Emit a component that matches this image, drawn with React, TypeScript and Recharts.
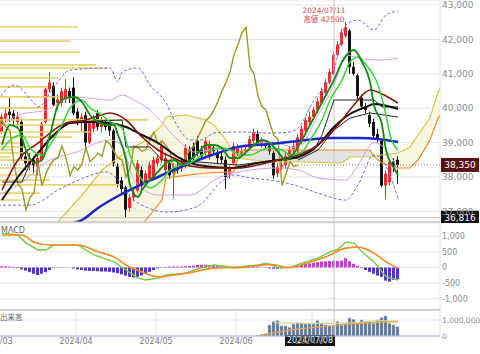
import React from 'react';
import { ComposedChart, Bar, Line, Area, XAxis, YAxis, CartesianGrid, ReferenceLine, ReferenceDot, Cell } from 'recharts';

const FONT = "'DejaVu Sans', 'Noto Sans CJK JP', sans-serif";

// ---------- axes / labels ----------
const monthTicks = [-1.5, 18.5, 38.5, 58.5, 77.5];
const monthLabels = ['2024/03', '2024/04', '2024/05', '2024/06', '2024/07'];
const crosshairSlot = 83;
const crosshairLabel = '2024/07/08';
const highSlot = 86;
const highDate = '2024/07/11';
const highValue = 42500;
const priceTicks = [37000, 38000, 39000, 40000, 41000, 42000, 43000];
const macdTicks = [-1000, -500, 0, 500, 1000];
const volumeTicks = [0, 1000000];
const LAG = 25;

// ---------- candles (slot 0..99) ----------
const candleOpen = [
  39300, 39700, 39900, 39850, 39600, 39600, 38600, 38350, 38500, 38300,
  38500, 39600, 40550, 40650, 40150, 40150, 40250, 40500, 40600, 39900,
  39600, 39800, 39000, 39400, 39850, 39450, 39600, 39500, 39350, 38300,
  37900, 37700, 37100, 37400, 37600, 38200, 37800, 37950, 38000, 38400,
  38500, 38200, 38400, 38100, 38300, 38250, 38300, 38800, 38900, 39050,
  38800, 38700, 38600, 38850, 38700, 38600, 38500, 38050, 38400, 38700,
  38700, 38750, 38850, 39050, 39250, 38900, 38950, 38900, 38700, 38100,
  38300, 38350, 38600, 38800, 38750, 39050, 39350, 39600, 39750, 39950,
  40150, 40450, 40750, 41000, 41550, 41850, 42100, 42250, 41200, 40950,
  40300, 40050, 39800, 39600, 39250, 39050, 37750, 37850, 38450, 38500,
];
const candleHigh = [
  39850, 40000, 40300, 39950, 39900, 39700, 38700, 38700, 38600, 38650,
  39600, 40600, 41050, 40750, 40400, 40600, 40850, 40600, 40900, 40000,
  39850, 39900, 39700, 39800, 39950, 39750, 39700, 39650, 39400, 38400,
  38000, 37750, 37500, 37650, 38500, 38300, 38200, 38450, 38600, 38650,
  39000, 38700, 38500, 38400, 38400, 38500, 38950, 38900, 39000, 39200,
  38900, 39150, 39050, 38950, 38850, 38700, 38600, 38350, 39000, 38950,
  38900, 38950, 39200, 39400, 39350, 39150, 39050, 39000, 38750, 38400,
  38500, 38700, 38900, 39000, 39250, 39500, 39750, 39900, 40050, 40300,
  40600, 40850, 41150, 41650, 41950, 42300, 42500, 42300, 41350, 41000,
  40400, 40150, 39900, 39700, 39400, 39100, 38200, 38500, 38550, 38600,
];
const candleLow = [
  39250, 39600, 39600, 39500, 39450, 38500, 38200, 38200, 38100, 38050,
  38450, 39550, 40450, 40050, 39950, 40050, 40150, 40150, 39800, 39500,
  39300, 38800, 38950, 39300, 39350, 39300, 39350, 39200, 38300, 37700,
  37500, 36816, 37000, 37300, 37550, 37600, 37700, 37850, 37900, 38300,
  38400, 38100, 37950, 37400, 38100, 38150, 38250, 38350, 38400, 38600,
  38500, 38600, 38500, 38650, 38400, 38400, 37650, 37950, 38350, 38600,
  38600, 38650, 38800, 38950, 38900, 38850, 38800, 38650, 37950, 38000,
  38200, 38250, 38500, 38700, 38700, 38950, 39300, 39500, 39650, 39850,
  40100, 40400, 40700, 40950, 41500, 41800, 42050, 41000, 40950, 40250,
  39950, 39850, 39450, 39100, 39000, 37700, 37350, 37750, 38150, 37800,
];
const candleClose = [
  39750, 39850, 39800, 39700, 39750, 38600, 38400, 38550, 38350, 38550,
  39550, 40550, 40750, 40100, 40250, 40500, 40550, 40300, 39850, 39700,
  39750, 39000, 39600, 39650, 39450, 39650, 39450, 39350, 38400, 37800,
  37650, 37050, 37400, 37550, 38400, 37750, 38100, 38350, 38500, 38550,
  38900, 38550, 38050, 38300, 38200, 38400, 38850, 38450, 38550, 38700,
  38600, 39050, 38950, 38750, 38550, 38500, 38000, 38250, 38900, 38850,
  38750, 38800, 39100, 39300, 38950, 39050, 38900, 38750, 38050, 38300,
  38350, 38600, 38800, 38900, 39150, 39400, 39650, 39750, 39950, 40200,
  40500, 40750, 41050, 41550, 41850, 42200, 42350, 41200, 41000, 40350,
  40050, 39950, 39550, 39200, 39100, 37750, 38100, 38450, 38300, 38350,
];

// ---------- moving averages and bands, [slot, price] ----------
const ma5Pts = [[0,38930],[2,39510],[4,39420],[6,38785],[8,38407],[10,38494],[12,39221],[14,40093],[16,40297],[18,40326],[20,40180],[22,39802],[24,39599],[26,39512],[28,39512],[29,39221],[31,38494],[32,37767],[34,37418],[35,37622],[37,37913],[39,38146],[41,38407],[43,38494],[45,38349],[47,38494],[49,38698],[51,38930],[53,38930],[55,38843],[57,38552],[59,38552],[61,38727],[63,38930],[65,39076],[67,38988],[69,38727],[71,38494],[73,38698],[75,39076],[77,39512],[79,39948],[81,40384],[83,40820],[85,41343],[88,41692],[90,41343],[92,40762],[93,40093],[95,39512],[96,38785],[98,38262],[99,38058]];
const ma10Pts = [[0,38785],[2,39076],[5,39221],[7,38843],[10,38640],[12,38930],[15,39512],[17,40006],[20,40238],[22,40006],[25,39802],[27,39599],[30,39424],[32,38640],[35,37913],[37,37680],[40,37913],[42,38203],[45,38349],[47,38407],[50,38640],[52,38785],[55,38843],[57,38785],[60,38640],[62,38640],[65,38785],[67,38843],[70,38785],[72,38640],[75,38727],[77,39076],[80,39657],[82,40238],[85,40820],[87,41343],[89,41488],[91,41256],[94,40674],[96,39802],[97,39221],[99,38785]];
const ma25Pts = [[0,37622],[4,38494],[9,38988],[16,39570],[21,39657],[24,39773],[27,39860],[31,39657],[35,39163],[39,38785],[44,38494],[47,38320],[52,38262],[59,38262],[64,38349],[69,38494],[74,38640],[79,38930],[84,39512],[88,40093],[92,40529],[96,40355],[99,40151]];
const ma75Pts = [[0,37331],[4,38000],[9,38698],[13,39221],[17,39570],[22,39599],[27,39570],[31,39453],[35,39221],[39,38988],[44,38581],[49,38349],[57,38262],[64,38407],[69,38494],[74,38581],[79,38930],[83,39453],[87,39831],[91,40035],[93,40122],[99,39977]];
const kijunPts = [[0,37855],[5,37855],[7,38407],[12,39163],[17,39599],[30,39657],[31,38872],[37,38872],[40,38494],[49,38436],[59,38349],[69,38494],[74,38552],[78,38785],[80,39221],[83,40238],[93,40238],[95,40035],[99,40035]];
const tenkanPts = [[74,38494],[79,38785],[83,39366],[87,39715],[92,39860],[99,39744]];
const ma200Pts = [[18,36663],[20,36750],[24,37099],[29,37448],[34,37738],[39,38000],[44,38262],[49,38494],[54,38698],[59,38872],[67,38959],[74,39046],[82,39134],[89,39134],[94,39105],[99,39017]];
const bbUp2Pts = [[-1,40238],[3,40674],[8,40151],[9,40035],[13,40616],[17,41110],[27,41169],[29,40762],[30,41052],[34,41169],[37,40674],[41,40151],[44,39453],[47,39076],[50,39076],[53,39279],[59,39308],[67,39279],[72,39308],[74,39424],[78,40238],[83,41110],[86,42419],[89,42564],[93,42273],[96,42709],[99,42826]];
const bbLo2Pts = [[-1,37180],[7,37180],[14,37620],[21,38000],[26,38150],[29,37910],[32,37420],[36,37130],[41,36980],[46,37040],[50,37240],[54,37770],[58,38060],[62,37970],[67,37910],[73,37770],[79,37530],[86,37330],[89,37770],[93,38640],[95,38490],[99,37390]];
const bbUp1Pts = [[-1,39366],[4,39802],[11,39948],[18,40326],[27,40238],[30,40384],[33,40238],[37,39948],[44,39076],[48,38727],[52,38785],[59,38843],[67,39017],[74,38843],[79,39802],[83,40674],[86,41546],[89,41459],[94,41401],[99,41459]];
const bbLo1Pts = [[-1,37477],[4,37767],[12,38494],[18,38700],[27,39076],[30,38900],[33,37913],[39,37477],[47,37477],[54,37971],[62,38203],[69,38262],[74,38203],[79,37971],[86,37913],[89,38349],[93,39000],[97,38640],[99,38203]];

// ---------- ichimoku cloud ----------
const cloudSlots = [14, 20, 25, 30, 35, 36, 40, 41, 46, 51, 53, 56, 58, 59, 60, 67, 75, 85, 87, 92, 93, 95, 99, 102, 104, 107, 109, 110];
const spanA = [36700, 37477, 38203, 38640, 39000, 39076, 39500, 39744, 39802, 39657, 39512, 39076, 38640, 38545, 38530, 38436, 38436, 38407, 38581, 38581, 38600, 38640, 38698, 38872, 39221, 39715, 40471, 40650];
const spanB = [36300, 36300, 36300, 36300, 36600, 36750, 37331, 37971, 38050, 38116, 38130, 38140, 38145, 38545, 38785, 38785, 38785, 38785, 38785, 38785, 38600, 38407, 38262, 38262, 38494, 39076, 39715, 39850];

// ---------- volume by price (price, length in slots) ----------
const vpPrices = [42360, 41950, 41630, 41260, 41170, 40880, 40620, 40330, 40010, 39660, 39510, 39310, 39160, 38990, 38870, 38790, 38700, 38580, 38490, 38260, 38060, 37910, 37770, 37530, 37330];
const vpLens = [19.5, 17.5, 20, 24, 27, 14.5, 12, 15, 11, 37, 17, 22.5, 18, 5, 9, 3, 6, 2.5, 7.5, 6, 9, 12.5, 30, 10, 5];

// ---------- MACD ----------
const macdHist = [
  40, 40, 30, 20, -20, -60, -100, -150, -200, -240,
  -200, -150, -80, -10, 10, 10, 10, 0, -30, -60,
  -80, -100, -110, -110, -120, -130, -130, -140, -160, -180,
  -220, -260, -300, -320, -300, -250, -200, -140, -80, -30,
  10, 20, 30, 30, 30, 30, 40, 50, 60, 80,
  90, 90, 80, 70, 50, 40, 30, 30, 30, 30,
  40, 50, 60, 50, 30, 10, -10, -30, -40, -40,
  -30, -20, -10, 30, 70, 90, 110, 130, 150, 170,
  190, 200, 210, 220, 210, 220, 300, 200, 120, 50,
  -20, -80, -140, -200, -260, -300, -420, -450, -400, -380,
];
const macdPts = [[0,1100],[4,1040],[6,780],[9,560],[11,560],[13,720],[19,720],[23,400],[28,180],[31,-80],[34,-340],[36,-400],[39,-340],[41,-240],[46,-180],[50,0],[53,80],[58,0],[64,80],[66,140],[69,0],[72,0],[75,140],[79,300],[82,500],[84,590],[86,810],[88,780],[90,500],[93,180],[95,-140],[96,-300],[99,-400]];
const signalPts = [[0,1040],[5,1040],[8,810],[12,720],[19,720],[24,500],[28,340],[31,80],[35,-140],[39,-300],[43,-240],[48,-140],[53,-20],[60,0],[67,100],[72,0],[76,130],[81,340],[86,620],[89,650],[93,460],[96,180],[99,-20]];

// ---------- volume ----------
const volStart = 64;
const volumes = [40000, 80000, 150000, 690000, 900000, 960000, 630000, 630000, 540000, 750000, 830000, 790000, 750000, 750000, 750000, 960000, 790000, 690000, 630000, 630000, 900000, 690000, 790000, 1130000, 1040000, 830000, 1000000, 900000, 900000, 790000, 1000000, 1150000, 1250000, 790000, 690000, 580000];
const volMaShortPts = [[68,830000],[75,800000],[82,790000],[89,850000],[95,960000],[99,920000]];
const volMaLongPts = [[64,30000],[68,200000],[72,370000],[79,560000],[86,720000],[93,830000],[99,900000]];

// ---------- tables ----------
const SLOT_MIN = -2;
const SLOT_MAX = 110;
const makeRows = () => {
  const r: any[] = [];
  for (let s = SLOT_MIN; s <= SLOT_MAX; s++) r.push({ s });
  return r;
};
const mainRows = makeRows();
const macdRows = makeRows();
const volRows = makeRows();
const at = (rows: any[], s: number) => rows[s - SLOT_MIN];
const put = (rows: any[], key: string, pts: number[][]) => pts.forEach(([s, v]) => { at(rows, s)[key] = v; });

candleOpen.forEach((o, i) => {
  const r = at(mainRows, i);
  r.o = o; r.h = candleHigh[i]; r.l = candleLow[i]; r.c = candleClose[i];
  r.range = [candleLow[i], candleHigh[i]];
  const lagSlot = i - LAG;
  if (lagSlot >= SLOT_MIN) at(mainRows, lagSlot).lag = candleClose[i];
});
put(mainRows, 'ma5', ma5Pts);
put(mainRows, 'ma10', ma10Pts);
put(mainRows, 'ma25', ma25Pts);
put(mainRows, 'ma75', ma75Pts);
put(mainRows, 'kijun', kijunPts);
put(mainRows, 'tenkan', tenkanPts);
put(mainRows, 'ma200', ma200Pts);
put(mainRows, 'bbUp2', bbUp2Pts);
put(mainRows, 'bbLo2', bbLo2Pts);
put(mainRows, 'bbUp1', bbUp1Pts);
put(mainRows, 'bbLo1', bbLo1Pts);
cloudSlots.forEach((s, k) => {
  const r = at(mainRows, s);
  const a = spanA[k];
  const b = spanB[k];
  r.spanA = a; r.spanB = b;
  if (a >= b) r.cloudUp = [b, a];
  if (b >= a) r.cloudDown = [a, b];
});
macdHist.forEach((h, i) => { at(macdRows, i).hist = h; });
put(macdRows, 'macd', macdPts);
put(macdRows, 'signal', signalPts);
volumes.forEach((v, i) => { at(volRows, volStart + i).vol = v; });
put(volRows, 'maS', volMaShortPts);
put(volRows, 'maL', volMaLongPts);

const lastClose = candleClose[candleClose.length - 1];
const periodLow = Math.min(...candleLow);
const fmt = (v: number) => v.toLocaleString('en-US');

// ---------- shapes ----------
const Candle = (props: any) => {
  const { x, y, width, height, payload } = props;
  if (!payload || payload.o == null || height == null) return null;
  const { o, c, h, l } = payload;
  const up = c >= o;
  const color = up ? '#ee2a2a' : '#141414';
  const py = (p: number) => y + ((h - p) / (h - l || 1)) * height;
  const cx = x + width / 2;
  const top = py(Math.max(o, c));
  const bot = py(Math.min(o, c));
  return (
    <g>
      <line x1={cx} x2={cx} y1={y} y2={y + height} stroke={color} strokeWidth={1} />
      <rect x={x} y={top} width={width} height={Math.max(1, bot - top)} fill={color} />
    </g>
  );
};

const RightTick = (props: any) => {
  const { x, y, payload, size, color } = props;
  return (
    <text x={x} y={y} dy="0.36em" textAnchor="start" fontSize={size} fill={color || '#8a8a8a'} fontFamily={FONT}>
      {fmt(payload.value)}
    </text>
  );
};

const MonthTick = (props: any) => {
  const { x, y, payload } = props;
  const idx = monthTicks.indexOf(payload.value);
  return (
    <text x={x} y={y + 5} dy="0.36em" textAnchor="middle" fontSize={8} fill="#777" fontFamily={FONT}>
      {monthLabels[idx]}
    </text>
  );
};

const PriceBox = (bg: string, text: string) => (props: any) => {
  const vb = props.viewBox || {};
  const x = vb.x + vb.width + 1;
  return (
    <g>
      <rect x={x} y={vb.y - 7} width={38} height={14} fill={bg} />
      <text x={x + 19} y={vb.y} dy="0.36em" textAnchor="middle" fontSize={9} fill="#fff" fontFamily={FONT}>{text}</text>
    </g>
  );
};

const HighLabel = (props: any) => {
  const vb = props.viewBox || {};
  const cx = vb.x - 22;
  return (
    <g fontFamily={FONT} fontSize={7.5} fill="#e04848" textAnchor="middle">
      <text x={cx} y={vb.y - 9.5}>{highDate}</text>
      <text x={cx} y={vb.y - 0.5}>{'高値 ' + highValue}</text>
    </g>
  );
};

const DateBox = (props: any) => {
  const vb = props.viewBox || {};
  const bx = vb.x - 49;
  const by = vb.y + vb.height - 1;
  return (
    <g>
      <rect x={bx} y={by} width={50} height={11} fill="#111" />
      <text x={bx + 25} y={by + 5.5} dy="0.36em" textAnchor="middle" fontSize={8} fill="#fff" fontFamily={FONT}>{crosshairLabel}</text>
    </g>
  );
};

const line = (key: string, color: string, width: number, extra: any = {}) => (
  <Line key={key} dataKey={key} stroke={color} strokeWidth={width} dot={false} activeDot={false}
    connectNulls isAnimationActive={false} type="monotone" {...extra} />
);

const X_DOMAIN: [number, number] = [-2.5, 109.5];

export default function App() {
  return (
    <div style={{ position: 'absolute', left: 0, top: 0, width: 480, height: 354, overflow: 'hidden', background: '#fff', fontFamily: FONT }}>
      {/* main price panel */}
      <div style={{ position: 'absolute', left: -8, top: 0 }}>
        <ComposedChart width={488} height={223} data={mainRows} margin={{ top: 0, right: 0, bottom: 0, left: 0 }}>
          <CartesianGrid stroke="#e4e4e4" />
          <XAxis type="number" dataKey="s" domain={X_DOMAIN} allowDataOverflow ticks={monthTicks} interval={0}
            tick={false} tickLine={false} height={1} axisLine={{ stroke: '#b8b8b8' }} />
          <YAxis orientation="right" width={40} domain={[36692, 43145]} allowDataOverflow ticks={priceTicks} interval={0}
            tickLine={false} axisLine={false} tickSize={0} tickMargin={2} tick={<RightTick size={9} />} />
          <Area dataKey="cloudUp" stroke="none" fill="#f4f0cc" fillOpacity={0.6} connectNulls isAnimationActive={false} type="linear" activeDot={false} />
          <Area dataKey="cloudDown" stroke="none" fill="#d6d6d6" fillOpacity={0.7} connectNulls isAnimationActive={false} type="linear" activeDot={false} />
          {vpPrices.map((p, i) => (
            <ReferenceLine key={'vp' + i} segment={[{ x: -2.5, y: p }, { x: -0.5 + vpLens[i], y: p }]}
              stroke="#e6cc62" strokeWidth={1.6} strokeOpacity={0.9} ifOverflow="visible" />
          ))}
          <ReferenceLine x={crosshairSlot} stroke="#c4c4c4" />
          <ReferenceLine y={periodLow} stroke="#c0c0c0" label={PriceBox('#111', fmt(periodLow))} />
          {line('spanA', '#d6c840', 1.2, { type: 'linear' })}
          {line('spanB', '#f08a2a', 1.2, { type: 'linear' })}
          {line('bbUp2', '#6a6ae0', 1, { strokeDasharray: '3 2' })}
          {line('bbLo2', '#6a6ae0', 1, { strokeDasharray: '3 2' })}
          {line('bbUp1', '#cfa2ea', 1)}
          {line('bbLo1', '#cfa2ea', 1)}
          {line('lag', '#9c9a24', 1.4, { type: 'linear' })}
          <Bar dataKey="range" barSize={3} shape={<Candle />} isAnimationActive={false} />
          {line('ma200', '#1a28c8', 2.5)}
          {line('kijun', '#222', 1, { type: 'linear' })}
          {line('tenkan', '#222', 1, { type: 'linear' })}
          {line('ma75', '#111', 2)}
          {line('ma25', '#8a1616', 1.6)}
          {line('ma10', '#3ad43a', 1.5)}
          {line('ma5', '#138a13', 1.8)}
          <ReferenceLine y={lastClose} stroke="#777" strokeDasharray="1 2" label={PriceBox('#5a1414', fmt(lastClose))} />
          <ReferenceDot x={highSlot} y={highValue} r={0} fill="none" stroke="none" label={HighLabel} />
        </ComposedChart>
      </div>

      {/* MACD panel */}
      <div style={{ position: 'absolute', left: -8, top: 223 }}>
        <ComposedChart width={488} height={88} data={macdRows} margin={{ top: 0, right: 0, bottom: 0, left: 0 }}>
          <CartesianGrid stroke="#e4e4e4" />
          <XAxis type="number" dataKey="s" domain={X_DOMAIN} allowDataOverflow ticks={monthTicks} interval={0}
            tick={false} tickLine={false} height={1} axisLine={{ stroke: '#c8c8c8', strokeWidth: 2 }} />
          <YAxis orientation="right" width={40} domain={[-1358, 1422]} allowDataOverflow ticks={macdTicks} interval={0}
            tickLine={false} axisLine={false} tickSize={0} tickMargin={2} tick={<RightTick size={8} />} />
          <ReferenceLine x={crosshairSlot} stroke="#c4c4c4" />
          <Bar dataKey="hist" barSize={3} isAnimationActive={false}>
            {macdRows.map((r, i) => (
              <Cell key={i} fill={r.hist >= 0 ? '#c63ccf' : '#5636c0'} />
            ))}
          </Bar>
          {line('macd', '#72cc3c', 1.4, { type: 'linear' })}
          {line('signal', '#f68a1e', 1.6)}
        </ComposedChart>
      </div>

      {/* volume panel */}
      <div style={{ position: 'absolute', left: -8, top: 310 }}>
        <ComposedChart width={488} height={44} data={volRows} margin={{ top: 0, right: 0, bottom: 0, left: 0 }}>
          <CartesianGrid stroke="#e4e4e4" />
          <XAxis type="number" dataKey="s" domain={X_DOMAIN} allowDataOverflow ticks={monthTicks} interval={0}
            tickLine={false} tickSize={0} tickMargin={0} height={18} axisLine={{ stroke: '#a6b4e0' }} tick={<MonthTick />} />
          <YAxis orientation="right" width={40} domain={[0, 1625000]} allowDataOverflow ticks={volumeTicks} interval={0}
            tickLine={false} axisLine={false} tickSize={0} tickMargin={2} tick={<RightTick size={7.5} />} />
          <Bar dataKey="vol" barSize={3} fill="#5e7494" stroke="#a9c0de" strokeWidth={0.5} isAnimationActive={false} />
          {line('maS', '#c9dc8e', 1.3)}
          {line('maL', '#f0a04a', 1.2)}
          <ReferenceLine x={crosshairSlot} stroke="#c4c4c4" label={DateBox} />
        </ComposedChart>
      </div>

      <div style={{ position: 'absolute', left: 1, top: 226, fontSize: 8, color: '#666', fontFamily: FONT, lineHeight: '10px' }}>MACD</div>
      <div style={{ position: 'absolute', left: 0, top: 313, fontSize: 7.5, color: '#666', fontFamily: FONT, lineHeight: '10px' }}>出来高</div>
    </div>
  );
}
